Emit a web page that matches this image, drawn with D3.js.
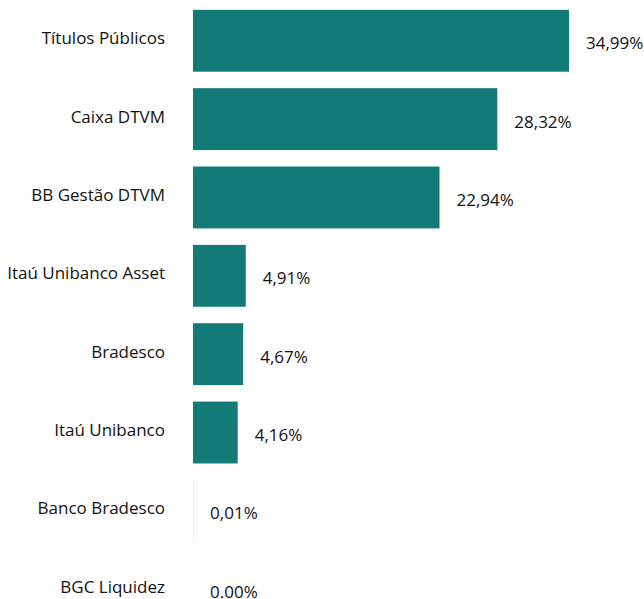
<!DOCTYPE html>
<html>
<head>
<meta charset="utf-8">
<script src="https://cdn.jsdelivr.net/npm/d3@7"></script>
<style>
  body { margin: 0; background: #fff; }
</style>
</head>
<body>
<div id="chart"></div>
<script>
const categories = ["Títulos Públicos", "Caixa DTVM", "BB Gestão DTVM", "Itaú Unibanco Asset",
  "Bradesco", "Itaú Unibanco", "Banco Bradesco", "BGC Liquidez"];
const values = [34.99, 28.32, 22.94, 4.91, 4.67, 4.16, 0.01, 0.00];
const valueLabels = ["34,99%", "28,32%", "22,94%", "4,91%", "4,67%", "4,16%", "0,01%", "0.00%"];

const teal = "#137b77";
const ink = "#111111";

const width = 644, height = 599;
const margin = { left: 193 };

const data = categories.map((c, i) => ({ name: c, value: values[i], label: valueLabels[i] }));

const svg = d3.select("#chart")
  .append("svg")
  .attr("width", width)
  .attr("height", height);

const x = d3.scaleLinear()
  .domain([0, 34.99])
  .range([margin.left, 569]);

const y = d3.scaleBand()
  .domain(categories)
  .range([2, 628])
  .paddingInner(0.21)
  .paddingOuter(0.1);

// bars
svg.selectAll("rect.bar")
  .data(data)
  .join("rect")
  .attr("class", "bar")
  .attr("x", x(0))
  .attr("y", d => y(d.name))
  .attr("width", d => x(d.value) - x(0))
  .attr("height", y.bandwidth())
  .attr("fill", teal);

const font = "'Open Sans', 'Noto Sans', sans-serif";

// category labels
svg.selectAll("text.cat")
  .data(data)
  .join("text")
  .attr("class", "cat")
  .attr("x", 165)
  .attr("y", d => y(d.name) + y.bandwidth() / 2 - 1)
  .attr("text-anchor", "end")
  .attr("dominant-baseline", "middle")
  .style("font-family", font)
  .style("font-size", "17px")
  .attr("fill", ink)
  .text(d => d.name);

// value labels
svg.selectAll("text.val")
  .data(data)
  .join("text")
  .attr("class", "val")
  .attr("x", d => x(d.value) + 17)
  .attr("y", d => y(d.name) + y.bandwidth() / 2 + 4)
  .attr("dominant-baseline", "middle")
  .style("font-family", font)
  .style("font-size", "17px")
  .attr("fill", ink)
  .text(d => d.label);
</script>
</body>
</html>
